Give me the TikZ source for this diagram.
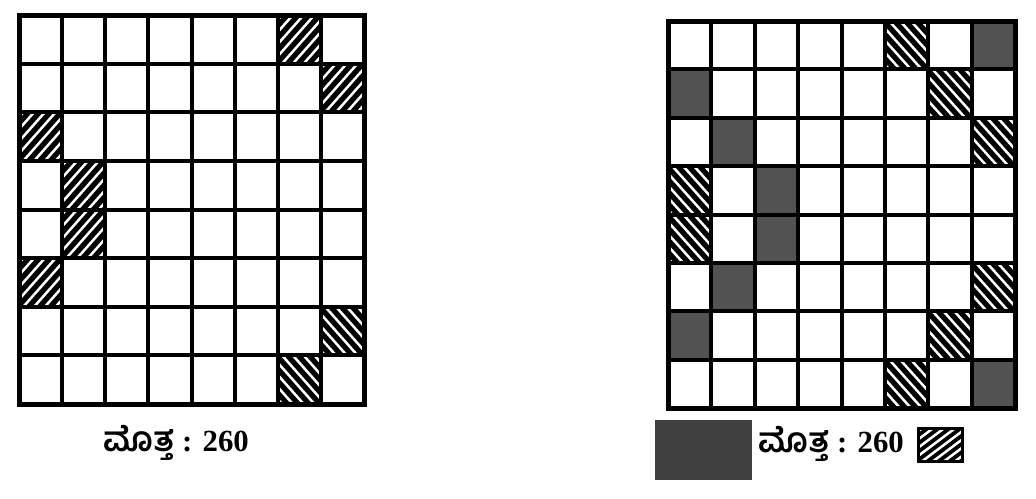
\documentclass[tikz,border=0pt]{standalone}
\usepackage{fontspec}
\setmainfont{Liberation Serif}
\newfontfamily\kanfont[Script=Kannada, Scale=1.12]{Hind Mysuru}

\tikzset{
    gridline/.style={line width=0.8mm, line cap=rect},
    frameline/.style={line width=1mm},
    stripe/.style={white, line width=0.5mm},
    grayfill/.style={fill=black!68},
    sumlabel/.style={anchor=base, inner sep=0pt, font=\fontsize{17.5}{20}\selectfont}
}

% black cell with white stripes, / or \
\newcommand{\slashcell}[2]{%
    \begin{scope}
        \clip (#1,#2) rectangle ++(1,1);
        \fill[black] (#1,#2) rectangle ++(1,1);
        \foreach \k in {-0.9,-0.65,...,1.0}
            \draw[stripe] (#1+\k,#2+1) -- ++(1,-1);
    \end{scope}}
\newcommand{\backcell}[2]{%
    \begin{scope}
        \clip (#1,#2) rectangle ++(1,1);
        \fill[black] (#1,#2) rectangle ++(1,1);
        \foreach \k in {-0.9,-0.65,...,1.0}
            \draw[stripe] (#1+\k,#2) -- ++(1,1);
    \end{scope}}
\newcommand{\sumtext}{{\kanfont\bfseries ಮೊತ್ತ}\textbf{ : 260}}

\begin{document}
\begin{tikzpicture}[x=0.2mm, y=-0.2mm]
    \fill[white] (0,0) rectangle (1036,498);
    \useasboundingbox (0,0) rectangle (1036,498);

    % left board
    \begin{scope}[shift={(19,15)}, xscale=43.125, yscale=48.625]
        \foreach \c/\r in {6/0, 7/1, 0/2, 1/3, 1/4, 0/5}
            \slashcell{\c}{\r};
        \foreach \c/\r in {7/6, 6/7}
            \backcell{\c}{\r};
        \foreach \i in {1,...,7} {
            \draw[gridline] (\i,0) -- (\i,8);
            \draw[gridline] (0,\i) -- (8,\i);
        }
        \draw[frameline] (0,0) rectangle (8,8);
    \end{scope}

    % right board
    \begin{scope}[shift={(668,21)}, xscale=43.375, yscale=48.375]
        \foreach \c/\r in {7/0, 0/1, 1/2, 2/3, 2/4, 1/5, 0/6, 7/7}
            \fill[grayfill] (\c,\r) rectangle ++(1,1);
        \foreach \c/\r in {5/0, 6/1, 7/2, 0/3, 0/4, 7/5, 6/6, 5/7}
            \backcell{\c}{\r};
        \foreach \i in {1,...,7} {
            \draw[gridline] (\i,0) -- (\i,8);
            \draw[gridline] (0,\i) -- (8,\i);
        }
        \draw[frameline] (0,0) rectangle (8,8);
    \end{scope}

    \node[sumlabel] (sumleft) at (176,451) {\sumtext};

    % key under the right board
    \fill[black!75] (655,420) rectangle (752,480);
    \node[sumlabel] (sumright) at (831,452) {\sumtext};
    \begin{scope}[shift={(918,428)}, xscale=44, yscale=33]
        \slashcell{0}{0};
        \draw[line width=0.6mm] (0,0) rectangle (1,1);
    \end{scope}
\end{tikzpicture}
\end{document}
